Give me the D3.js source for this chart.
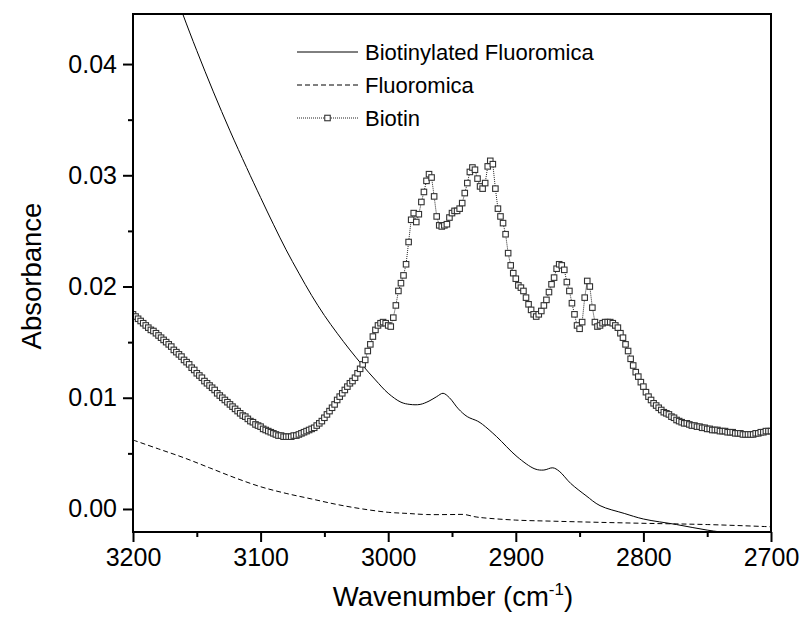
<!DOCTYPE html>
<html>
<head>
<meta charset="utf-8">
<script src="https://cdn.jsdelivr.net/npm/d3@7"></script>
<style>
  html, body { margin: 0; padding: 0; background: #fff; }
  svg { display: block; font-family: "Liberation Sans", Arial, sans-serif; }
</style>
</head>
<body>
<svg id="chart" width="803" height="625"></svg>
<script>
// Biotin spectrum: absorbance sampled every 2 cm-1 from 3200 down to 2700
const biotinStart = 3200;
const biotinStep = -2;
const biotinAbs = [
  0.0175,0.0173,0.0171,0.0169,0.0167,0.0165,0.0163,0.0161,0.0160,0.0158,
  0.0156,0.0154,0.0152,0.0150,0.0148,0.0146,0.0143,0.0141,0.0139,0.0137,
  0.0134,0.0132,0.0130,0.0127,0.0125,0.0122,0.0120,0.0118,0.0115,0.0113,
  0.0111,0.0109,0.0107,0.0104,0.0102,0.0100,0.0098,0.0096,0.0094,0.0092,
  0.0090,0.0088,0.0086,0.0084,0.0083,0.0081,0.0079,0.0078,0.0076,0.0075,
  0.0074,0.0072,0.0071,0.0070,0.0069,0.0068,0.0067,0.0066,0.0066,0.0065,
  0.0065,0.0065,0.0065,0.0066,0.0066,0.0067,0.0068,0.0069,0.0070,0.0071,
  0.0072,0.0073,0.0075,0.0077,0.0079,0.0082,0.0085,0.0088,0.0091,0.0094,
  0.0098,0.0101,0.0104,0.0107,0.0110,0.0113,0.0115,0.0118,0.0122,0.0126,
  0.0130,0.0134,0.0142,0.0148,0.0155,0.0161,0.0165,0.0167,0.0168,0.0167,
  0.0165,0.0164,0.0172,0.0183,0.0196,0.0203,0.0210,0.0220,0.0240,0.0260,
  0.0266,0.0258,0.0265,0.0276,0.0285,0.0295,0.0301,0.0298,0.0281,0.0263,
  0.0255,0.0254,0.0255,0.0256,0.0262,0.0266,0.0268,0.0268,0.0270,0.0275,
  0.0284,0.0293,0.0303,0.0307,0.0305,0.0297,0.0290,0.0288,0.0293,0.0308,
  0.0313,0.0310,0.0288,0.0270,0.0263,0.0257,0.0247,0.0230,0.0219,0.0212,
  0.0207,0.0201,0.0199,0.0196,0.0190,0.0184,0.0179,0.0175,0.0173,0.0175,
  0.0178,0.0183,0.0188,0.0195,0.0202,0.0208,0.0216,0.0220,0.0219,0.0215,
  0.0204,0.0196,0.0185,0.0175,0.0165,0.0162,0.0168,0.0190,0.0205,0.0200,
  0.0181,0.0168,0.0164,0.0165,0.0167,0.0168,0.0168,0.0168,0.0167,0.0165,
  0.0163,0.0158,0.0154,0.0148,0.0142,0.0135,0.0129,0.0123,0.0119,0.0114,
  0.0110,0.0105,0.0101,0.0098,0.0095,0.0093,0.0091,0.0089,0.0087,0.0086,
  0.0085,0.0083,0.0082,0.0080,0.0079,0.0078,0.0077,0.0077,0.0076,0.0075,
  0.0075,0.0074,0.0074,0.0073,0.0073,0.0072,0.0072,0.0071,0.0071,0.0071,
  0.0070,0.0070,0.0070,0.0069,0.0069,0.0069,0.0068,0.0068,0.0068,0.0067,
  0.0067,0.0067,0.0067,0.0067,0.0068,0.0068,0.0069,0.0069,0.0070,0.0070,
  0.0070
];

// Biotinylated fluoromica spectrum (wavenumber, absorbance)
const biotinylatedWn  = [3200, 3180, 3161, 3150, 3137, 3124, 3111, 3100, 3090, 3080, 3070, 3060, 3050, 3040, 3030, 3020, 3010, 3000, 2990, 2983, 2975, 2968, 2962, 2957, 2952, 2945, 2938, 2930, 2926, 2915, 2899, 2885, 2878, 2871, 2866, 2857, 2845, 2834, 2815, 2800, 2774, 2750, 2730, 2700];
const biotinylatedAbs = [0.0578, 0.0506, 0.0445, 0.0412, 0.0375, 0.0340, 0.0307, 0.0280, 0.0256, 0.0233, 0.0212, 0.0192, 0.0174, 0.0158, 0.0143, 0.0129, 0.0116, 0.0104, 0.0096, 0.0094, 0.0094, 0.0097, 0.0101, 0.0104, 0.0100, 0.0090, 0.0083, 0.0079, 0.0076, 0.0065, 0.0047, 0.0036, 0.0035, 0.0037, 0.0034, 0.0023, 0.0012, 0.0003, -0.0004, -0.0009, -0.0014, -0.0019, -0.0022, -0.0026];

// Fluoromica reference spectrum (wavenumber, absorbance)
const fluoromicaWn  = [3200, 3180, 3160, 3140, 3120, 3100, 3080, 3060, 3040, 3020, 3000, 2985, 2970, 2950, 2940, 2932, 2925, 2900, 2870, 2835, 2795, 2750, 2700];
const fluoromicaAbs = [0.0062, 0.0054, 0.0046, 0.0037, 0.0028, 0.0020, 0.0014, 0.0009, 0.0004, 0.0000, -0.0003, -0.0004, -0.0005, -0.0005, -0.0005, -0.0007, -0.0008, -0.0010, -0.0011, -0.0012, -0.0013, -0.0014, -0.0016];

const xTicks = [3200, 3100, 3000, 2900, 2800, 2700];
const yTicks = [0.00, 0.01, 0.02, 0.03, 0.04];
const seriesNames = ["Biotinylated Fluoromica", "Fluoromica", "Biotin"];

const W = 803, H = 625;
const margin = { left: 133, top: 14, right: 32, bottom: 93 };
const svg = d3.select("#chart");

const x = d3.scaleLinear().domain([3200, 2700]).range([margin.left, W - margin.right]);
const y = d3.scaleLinear().domain([-0.00207, 0.0445]).range([H - margin.bottom, margin.top]);

const biotin = biotinAbs.map((v, i) => ({ w: biotinStart + biotinStep * i, v }));
const biotinylated = biotinylatedWn.map((w, i) => ({ w, v: biotinylatedAbs[i] }));
const fluoromica = fluoromicaWn.map((w, i) => ({ w, v: fluoromicaAbs[i] }));

svg.append("defs").append("clipPath").attr("id", "plotClip")
  .append("rect")
  .attr("x", margin.left).attr("y", margin.top)
  .attr("width", W - margin.left - margin.right)
  .attr("height", H - margin.top - margin.bottom);

const plot = svg.append("g").attr("clip-path", "url(#plotClip)");

const smooth = d3.line().x(d => x(d.w)).y(d => y(d.v)).curve(d3.curveCatmullRom.alpha(0.5));
const straight = d3.line().x(d => x(d.w)).y(d => y(d.v));

plot.append("path").datum(fluoromica)
  .attr("d", smooth).attr("fill", "none")
  .attr("stroke", "#000").attr("stroke-width", 1)
  .attr("stroke-dasharray", "5,3");

plot.append("path").datum(biotinylated)
  .attr("d", smooth).attr("fill", "none")
  .attr("stroke", "#000").attr("stroke-width", 1);

plot.append("path").datum(biotin)
  .attr("d", straight).attr("fill", "none")
  .attr("stroke", "#222").attr("stroke-width", 1)
  .attr("stroke-dasharray", "1,1");

const ms = 5.5;
plot.selectAll("rect.biotin").data(biotin).enter().append("rect")
  .attr("class", "biotin")
  .attr("x", d => x(d.w) - ms / 2).attr("y", d => y(d.v) - ms / 2)
  .attr("width", ms).attr("height", ms)
  .attr("fill", "#fff").attr("stroke", "#333").attr("stroke-width", 1.1);

// Axes
const tickFont = 25;
const titleFont = 27.5;
const xAxis = d3.axisBottom(x).tickValues(xTicks).tickSize(10).tickPadding(6).tickFormat(d3.format("d"));
const xMinor = d3.axisBottom(x).tickValues(d3.range(3150, 2700, -100)).tickSize(5).tickFormat("");
const yAxis = d3.axisLeft(y).tickValues(yTicks).tickSize(10).tickPadding(6).tickFormat(d3.format(".2f"));
const yMinor = d3.axisLeft(y).tickValues([0.005, 0.015, 0.025, 0.035]).tickSize(5).tickFormat("");

function styleAxis(g) {
  g.select(".domain").remove();
  g.selectAll("line").attr("stroke", "#000").attr("stroke-width", 2);
  g.selectAll("text").attr("fill", "#000").style("font-size", tickFont + "px")
    .style("font-family", "'Liberation Sans', Arial, sans-serif");
}

svg.append("g").attr("transform", `translate(0,${H - margin.bottom})`).call(xAxis).call(styleAxis);
svg.append("g").attr("transform", `translate(0,${H - margin.bottom})`).call(xMinor).call(styleAxis);
svg.append("g").attr("transform", `translate(${margin.left},0)`).call(yAxis).call(styleAxis);
svg.append("g").attr("transform", `translate(${margin.left},0)`).call(yMinor).call(styleAxis);

// Frame
svg.append("rect")
  .attr("x", margin.left).attr("y", margin.top)
  .attr("width", W - margin.left - margin.right)
  .attr("height", H - margin.top - margin.bottom)
  .attr("fill", "none").attr("stroke", "#000").attr("stroke-width", 2);

// Axis titles
svg.append("text")
  .attr("transform", `translate(41,276) rotate(-90)`)
  .attr("text-anchor", "middle")
  .style("font-size", titleFont + "px")
  .text("Absorbance");

const xt = svg.append("text")
  .attr("x", 453).attr("y", 606)
  .attr("text-anchor", "middle")
  .style("font-size", titleFont + "px");
xt.append("tspan").text("Wavenumber (cm");
xt.append("tspan").attr("dy", -11).style("font-size", "17px").text("-1");
xt.append("tspan").attr("dy", 11).text(")");

// Legend
const legend = svg.append("g");
const lx0 = 297, lx1 = 358, ltx = 365;
const rows = [52, 85, 118];
legend.append("line").attr("x1", lx0).attr("x2", lx1).attr("y1", rows[0]).attr("y2", rows[0])
  .attr("stroke", "#000").attr("stroke-width", 1);
legend.append("line").attr("x1", lx0).attr("x2", lx1).attr("y1", rows[1]).attr("y2", rows[1])
  .attr("stroke", "#000").attr("stroke-width", 1).attr("stroke-dasharray", "5,3");
legend.append("line").attr("x1", lx0).attr("x2", lx1).attr("y1", rows[2]).attr("y2", rows[2])
  .attr("stroke", "#222").attr("stroke-width", 1).attr("stroke-dasharray", "1,1");
legend.append("rect").attr("x", (lx0 + lx1) / 2 - ms / 2).attr("y", rows[2] - ms / 2)
  .attr("width", ms).attr("height", ms)
  .attr("fill", "#fff").attr("stroke", "#333").attr("stroke-width", 1.1);
legend.selectAll("text.leg").data(seriesNames).enter().append("text")
  .attr("class", "leg")
  .attr("x", ltx).attr("y", (d, i) => rows[i])
  .attr("dy", "0.35em")
  .style("font-size", "22px")
  .text(d => d);
</script>
</body>
</html>
